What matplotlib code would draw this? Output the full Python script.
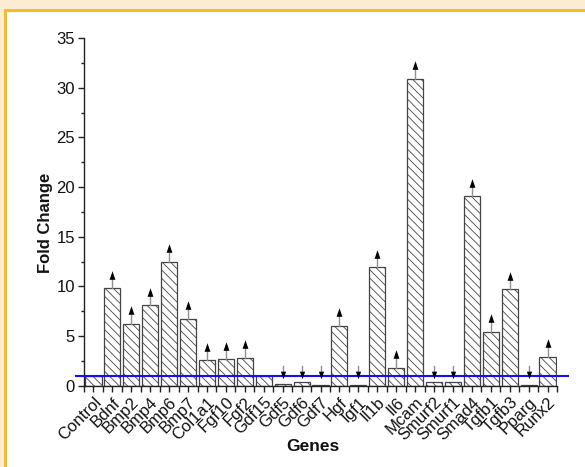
import matplotlib
matplotlib.use("Agg")
import matplotlib.pyplot as plt
from matplotlib.patches import Rectangle
from matplotlib.path import Path
from matplotlib.ticker import MultipleLocator
import numpy as np

genes = ["Control", "Bdnf", "Bmp2", "Bmp4", "Bmp6", "Bmp7", "Col1a1", "Fgf10",
         "Fgf2", "Gdf15", "Gdf5", "Gdf6", "Gdf7", "Hgf", "Igf1", "Il1b", "Il6",
         "Mcam", "Smurf2", "Smurf1", "Smad4", "Tgfb1", "Tgfb3", "Pparg", "Runx2"]
fold_change = [1.0, 9.8, 6.2, 8.1, 12.45, 6.75, 2.55, 2.65, 2.8, 1.0, 0.15, 0.35,
               0.05, 6.0, 0.05, 11.9, 1.78, 30.9, 0.4, 0.38, 19.05, 5.45, 9.7,
               0.05, 2.92]
regulation = ["none", "up", "up", "up", "up", "up", "up", "up", "up", "none",
              "down", "down", "down", "up", "down", "up", "up", "up", "down",
              "down", "up", "up", "up", "down", "up"]
baseline = 1.0
y_ticks = [0, 5, 10, 15, 20, 25, 30, 35]

plt.rcParams['font.family'] = ['Liberation Sans', 'DejaVu Sans']
plt.rcParams['hatch.linewidth'] = 0.6

W, H = 585, 467
fig = plt.figure(figsize=(W / 100, H / 100), dpi=100)
fig.patch.set_facecolor('white')

# frame decoration (beige bands + gold lines at top and left)
beige = '#FCEDD2'
gold = '#F4C020'
fig.patches.append(Rectangle((0, 1 - 9 / H), 1, 9 / H, transform=fig.transFigure,
                             facecolor=beige, edgecolor='none', zorder=0))
fig.patches.append(Rectangle((0, 0), 4 / W, 1, transform=fig.transFigure,
                             facecolor=beige, edgecolor='none', zorder=0))
fig.patches.append(Rectangle((4 / W, 1 - 11.5 / H), 1, 2.5 / H, transform=fig.transFigure,
                             facecolor=gold, edgecolor='none', zorder=1))
fig.patches.append(Rectangle((4 / W, 0), 3 / W, 1 - 9 / H, transform=fig.transFigure,
                             facecolor=gold, edgecolor='none', zorder=1))

ax = fig.add_axes([84 / W, (H - 385.7) / H, 473 / W, 347.7 / H])
ax.set_facecolor('none')

x = np.arange(len(genes))
ax.bar(x, fold_change, width=0.85, facecolor='white', edgecolor='#444444',
       linewidth=0.9, hatch='\\\\\\\\', zorder=2)

# baseline reference line (extends slightly past the axes)
ax.plot([-0.017, 1.023], [baseline, baseline], color='#1010F0', lw=1.5,
        transform=ax.get_yaxis_transform(), clip_on=False, zorder=3)

# arrow markers
up_head = Path([(0, 0.5), (-0.34, -0.5), (0.34, -0.5), (0, 0.5)],
               [Path.MOVETO, Path.LINETO, Path.LINETO, Path.CLOSEPOLY])
down_head = Path([(0, -0.5), (-0.34, 0.5), (0.34, 0.5), (0, -0.5)],
                 [Path.MOVETO, Path.LINETO, Path.LINETO, Path.CLOSEPOLY])
up_len, up_head_h = 1.8, 0.85
down_top, down_tip, down_head_h = 2.0, 0.7, 0.75
for xi, v, r in zip(x, fold_change, regulation):
    if r == "up":
        tip = v + up_len
        ax.plot([xi, xi], [v, tip - up_head_h], color='#909090', lw=1.0,
                zorder=4, clip_on=False)
        ax.plot([xi], [tip - up_head_h / 2], marker=up_head, markersize=6.2,
                color='black', markeredgewidth=0, zorder=5, clip_on=False)
    elif r == "down":
        ax.plot([xi, xi], [down_top, down_tip + down_head_h], color='#909090',
                lw=1.0, zorder=4)
        ax.plot([xi], [down_tip + down_head_h / 2], marker=down_head,
                markersize=5.5, color='black', markeredgewidth=0, zorder=5)

ax.set_xlim(-0.5, len(genes) - 0.5)
ax.set_ylim(0, 35)
ax.set_yticks(y_ticks)
ax.yaxis.set_minor_locator(MultipleLocator(2.5))
ax.set_xticks(x)
ax.set_xticks(np.arange(-0.5, len(genes), 1.0), minor=True)
ax.set_xticklabels(genes, rotation=45, ha='right', rotation_mode='anchor')

for s in ['top', 'right']:
    ax.spines[s].set_visible(False)
for s in ['left', 'bottom']:
    ax.spines[s].set_color('#222222')
    ax.spines[s].set_linewidth(1.0)

ax.tick_params(axis='both', which='major', direction='out', length=4.5, width=1.0,
               color='#222222', labelsize=12, labelcolor='#111111', pad=2)
ax.tick_params(axis='both', which='minor', direction='out', length=2.5, width=1.0,
               color='#222222')
ax.tick_params(axis='x', which='minor', length=4.0)

ax.set_ylabel('Fold Change', fontsize=12, fontweight='bold', color='#111111')
ax.yaxis.set_label_coords(-0.066, 0.469)
ax.set_xlabel('Genes', fontsize=12.5, fontweight='bold', color='#111111')
ax.xaxis.set_label_coords(0.483, -0.152)

fig.savefig('out.png', dpi=100, facecolor=fig.get_facecolor())
